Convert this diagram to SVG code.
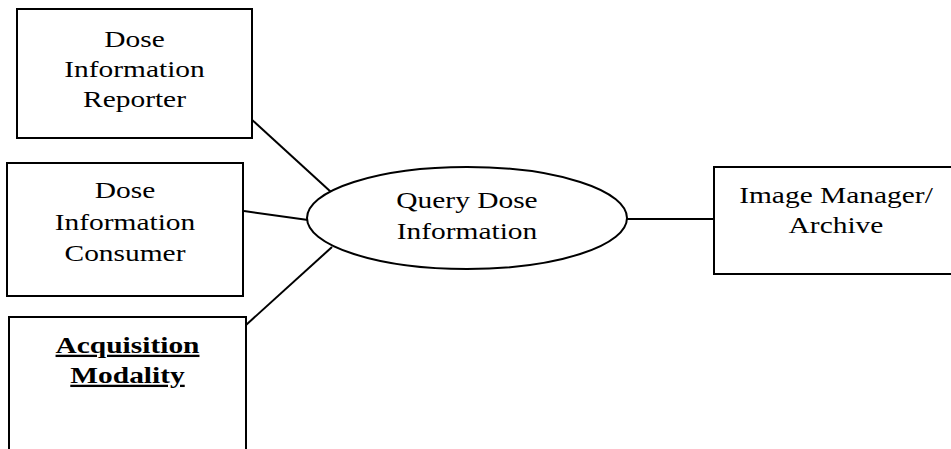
<svg xmlns="http://www.w3.org/2000/svg" width="951" height="449" viewBox="0 0 951 449">
<style>
.box{fill:#fff;stroke:#000;stroke-width:2}
.conn line{stroke:#000;stroke-width:2}
text{font-family:"Liberation Serif","Times New Roman",serif;font-size:23px;fill:#000;text-anchor:middle}
.b{font-weight:bold;text-decoration:underline}
</style>
<rect width="951" height="449" fill="#fff"/>
<g id="connectors" class="conn">
<line x1="250" y1="118" x2="331" y2="192"/>
<line x1="244" y1="211" x2="308" y2="220"/>
<line x1="246" y1="325" x2="332" y2="247"/>
<line x1="627" y1="219" x2="714" y2="219"/>
</g>
<g id="reporter">
<rect class="box" x="17" y="9" width="235" height="129"/>
<text transform="translate(134.5,0) scale(1.28,1)"><tspan x="0" y="47">Dose</tspan><tspan x="0" y="77">Information</tspan><tspan x="0" y="107">Reporter</tspan></text>
</g>
<g id="consumer">
<rect class="box" x="7" y="163" width="236" height="133"/>
<text transform="translate(125,0) scale(1.28,1)"><tspan x="0" y="198">Dose</tspan><tspan x="0" y="230">Information</tspan><tspan x="0" y="261">Consumer</tspan></text>
</g>
<g id="modality">
<rect class="box" x="9" y="317" width="237" height="150"/>
<text class="b" transform="translate(127.5,0) scale(1.28,1)"><tspan x="0" y="353">Acquisition</tspan><tspan x="0" y="383">Modality</tspan></text>
</g>
<g id="query">
<ellipse class="box" cx="467" cy="218" rx="160" ry="51"/>
<text transform="translate(467,0) scale(1.28,1)"><tspan x="0" y="208">Query Dose</tspan><tspan x="0" y="239">Information</tspan></text>
</g>
<g id="archive">
<rect class="box" x="714" y="167" width="244" height="107"/>
<text transform="translate(836,0) scale(1.28,1)"><tspan x="0" y="203">Image Manager/</tspan><tspan x="0" y="233">Archive</tspan></text>
</g>
</svg>
